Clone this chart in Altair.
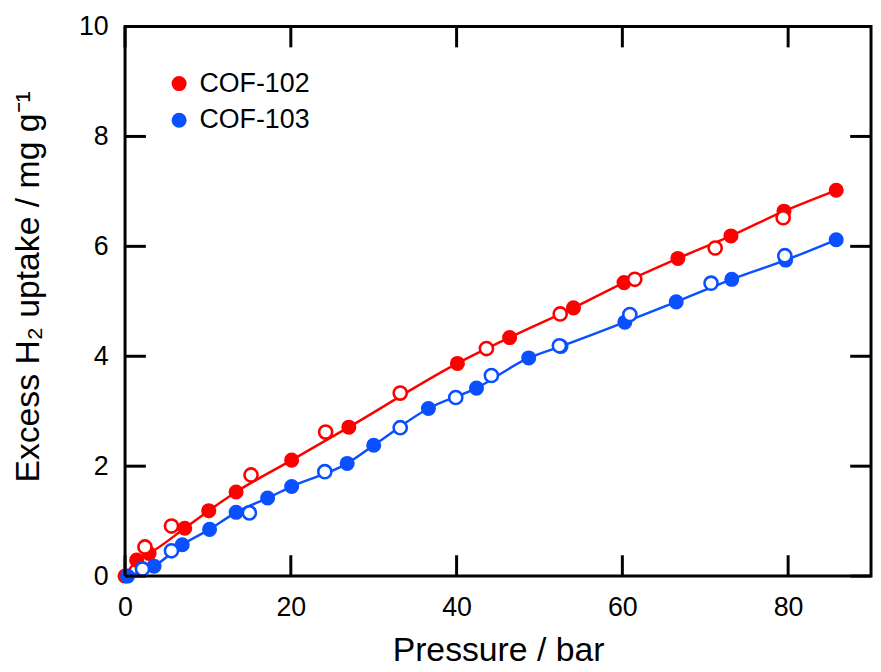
import altair as alt
import pandas as pd

# ---- data ----
cof102_filled_p = [0, 1.4, 2.9, 7.2, 10.1, 13.4, 20.1, 27.0, 40.1, 46.4, 54.1, 60.2, 66.7, 73.1, 79.5, 85.8]
cof102_filled_u = [0, 0.29, 0.41, 0.87, 1.19, 1.53, 2.11, 2.71, 3.87, 4.34, 4.88, 5.34, 5.78, 6.19, 6.64, 7.02]
cof102_open_p = [2.4, 5.6, 15.2, 24.2, 33.2, 43.6, 52.5, 61.5, 71.2, 79.4]
cof102_open_u = [0.53, 0.91, 1.84, 2.62, 3.33, 4.14, 4.77, 5.40, 5.97, 6.52]

cof103_filled_p = [0.3, 3.5, 6.9, 10.2, 13.4, 17.2, 20.1, 26.8, 30.0, 36.6, 42.4, 48.7, 52.6, 60.3, 66.5, 73.2, 79.7, 85.8]
cof103_filled_u = [0.0, 0.18, 0.57, 0.85, 1.16, 1.42, 1.63, 2.05, 2.38, 3.05, 3.42, 3.97, 4.18, 4.62, 4.99, 5.40, 5.75, 6.12]
cof103_open_p = [2.1, 5.6, 15.0, 24.1, 33.2, 39.9, 44.2, 52.4, 60.9, 70.7, 79.6]
cof103_open_u = [0.13, 0.46, 1.15, 1.90, 2.70, 3.25, 3.65, 4.19, 4.76, 5.33, 5.83]

series_names = ["COF-102", "COF-103"]
series_colors = ["#ff0000", "#0a50ff"]

x_ticks = [0, 20, 40, 60, 80]
y_ticks = [0, 2, 4, 6, 8, 10]

FONT = "Liberation Sans"
W, H = 752, 554
TL = 21  # inward tick length


def table(p, u, i):
    return pd.DataFrame({"p": p, "u": u, "series": series_names[i], "hex": series_colors[i]})


filled = pd.concat([
    table(cof102_filled_p, cof102_filled_u, 0),
    table(cof103_filled_p, cof103_filled_u, 1),
])
opened = pd.concat([
    table(cof102_open_p, cof102_open_u, 0),
    table(cof103_open_p, cof103_open_u, 1),
])

xs = alt.Scale(domain=[0, 90], nice=False, zero=False, padding=0)
ys = alt.Scale(domain=[0, 10], nice=False, zero=False, padding=0)
cs = alt.Scale(domain=series_names, range=series_colors)

x_axis = alt.Axis(values=x_ticks, ticks=False, domain=False, grid=False,
                  labelFlush=False, labelFont=FONT, labelFontSize=27,
                  labelColor="black", labelPadding=19, title="Pressure / bar",
                  titleFont=FONT, titleFontSize=34, titleFontWeight="normal",
                  titleColor="black", titlePadding=13)
y_axis = alt.Axis(values=y_ticks, ticks=False, domain=False, grid=False,
                  labelFlush=False, labelFont=FONT, labelFontSize=27,
                  labelColor="black", labelPadding=17,
                  title="Excess H\u2082 uptake / mg g\u207b\u00b9",
                  titleFont=FONT, titleFontSize=34, titleFontWeight="normal",
                  titleColor="black", titlePadding=33, titleY=262)

X = alt.X("p:Q", scale=xs, axis=x_axis)
Y = alt.Y("u:Q", scale=ys, axis=y_axis)

line = alt.Chart(filled).mark_line(strokeWidth=2.5, interpolate="monotone").encode(
    x=X, y=Y,
    stroke=alt.Stroke("hex:N", scale=None),
    detail="series:N",
)

dots = alt.Chart(filled).mark_circle(size=230, opacity=1).encode(
    x=X, y=Y,
    color=alt.Color("series:N", scale=cs, legend=alt.Legend(
        title=None, orient="none", legendX=41, legendY=44,
        labelFont=FONT, labelFontSize=27, labelColor="black",
        symbolSize=230, symbolType="circle", symbolStrokeWidth=0,
        symbolOpacity=1, rowPadding=9, labelOffset=7, padding=0)),
)

rings = alt.Chart(opened).mark_point(shape="circle", filled=False, fill="white",
                                     fillOpacity=1, size=175, strokeWidth=2.6,
                                     opacity=1).encode(
    x=X, y=Y,
    stroke=alt.Stroke("hex:N", scale=None),
)

xt = pd.DataFrame({"p": x_ticks})
yt = pd.DataFrame({"u": y_ticks})

tick_bottom = alt.Chart(xt).mark_rule(strokeWidth=3, color="black").encode(
    x=X, y=alt.value(H), y2=alt.value(H - TL))
tick_top = alt.Chart(xt).mark_rule(strokeWidth=3, color="black").encode(
    x=X, y=alt.value(0), y2=alt.value(TL))
tick_left = alt.Chart(yt).mark_rule(strokeWidth=3, color="black").encode(
    y=Y, x=alt.value(0), x2=alt.value(TL))
tick_right = alt.Chart(yt).mark_rule(strokeWidth=3, color="black").encode(
    y=Y, x=alt.value(W), x2=alt.value(W - TL))

chart = alt.layer(line, dots, rings, tick_bottom, tick_top, tick_left, tick_right).properties(
    width=W, height=H,
    padding={"left": 3, "top": 2, "right": 0, "bottom": 0},
    background="white",
).configure_view(stroke="black", strokeWidth=3)

chart.save("out.html", embed_options={"renderer": "svg", "actions": False})
